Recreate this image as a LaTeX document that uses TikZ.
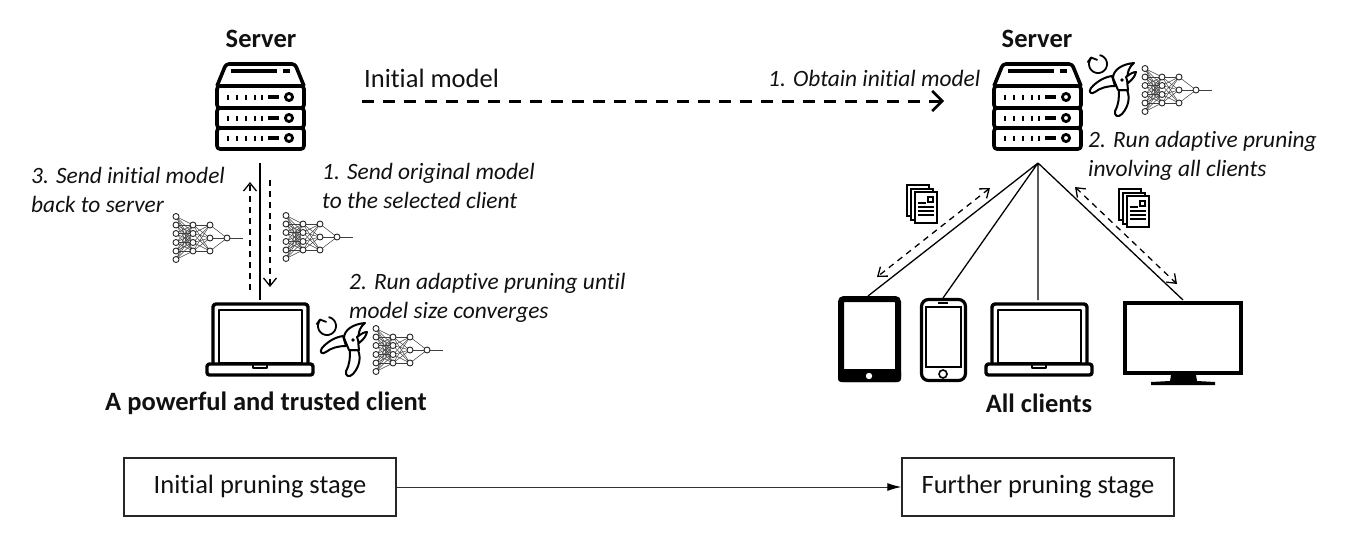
\documentclass[tikz,border=0pt]{standalone}
\usepackage{fontspec}
\setmainfont{Carlito}[Ligatures=NoCommon]
\usetikzlibrary{arrows.meta}
\definecolor{ink}{HTML}{111111}
\tikzset{
  x=1pt,y=-1pt,
  lbl/.style={font=\fontsize{23.4}{29}\selectfont\itshape,align=left,text=ink,inner sep=0pt,anchor=north west},
  head/.style={font=\fontsize{26.5}{30}\selectfont\bfseries,text=ink,inner sep=0pt},
  plain/.style={font=\fontsize{26.5}{30}\selectfont,text=ink,inner sep=0pt},
  stagebox/.style={draw=black!85,line width=1.4pt,fill=white,minimum height=58pt,minimum width=272pt,font=\fontsize{26.5}{30}\selectfont,text=ink,inner sep=0pt},
  iconbox/.style={inner sep=0pt,minimum width=#1},
  dashline/.style={draw=black,line width=1.3pt,dash pattern=on 6pt off 5pt},
  open/.style={-{Straight Barb[length=8pt,width=13pt,line width=1.3pt]}},
  pics/server/.style={code={
    \begin{scope}[line width=3.6pt,line join=round,draw=black]
    \draw[rounded corners=3pt] (0,24)--(9,2)--(78,2)--(87,24);
    \draw[rounded corners=3pt] (0,24) rectangle (87,46);
    \draw[rounded corners=3pt] (0,46) rectangle (87,66);
    \draw[rounded corners=3pt] (0,66) rectangle (87,87);
    \draw (14,9)--(60,9) (66,9)--(73,9);
    \foreach \yy in {35,56,76}{
      \foreach \xx in {11,20,29,38,45}{\draw[line width=2.6pt] (\xx,\yy-2.5)--(\xx,\yy+2.5);}
      \draw (51,\yy)--(62,\yy);
      \draw[line width=2.8pt] (72,\yy) circle (3.6);
    }
    \end{scope}}},
  pics/laptop/.style={code={
    \begin{scope}[line join=round,draw=black]
    \draw[line width=3.4pt,rounded corners=3pt] (6,60)--(6,0)--(101,0)--(101,60);
    \draw[line width=2pt] (12,6) rectangle (95,59);
    \draw[line width=3.4pt,rounded corners=2.5pt] (0,60) rectangle (106,71);
    \draw[line width=1.6pt] (46,60)--(46,64)--(60,64)--(60,60);
    \end{scope}}},
  pics/nnet/.style={code={
    \begin{scope}[draw=black!75,line width=.5pt]
    \foreach \a in {-21.5,-13,-4.5,4.5,13,21.5}{\foreach \b in {-13,-4.5,4.5,13}{\draw (0,\a)--(17,\b);}}
    \foreach \a in {-13,-4.5,4.5,13}{\foreach \b in {-13,0,13}{\draw (17,\a)--(34,\b);}}
    \foreach \b in {-13,0,13}{\draw (34,\b)--(51,0);}
    \draw[line width=.8pt] (51,0)--(67,0);
    \end{scope}
    \begin{scope}[draw=black!85,line width=.9pt,fill=white]
    \foreach \a in {-21.5,-13,-4.5,4.5,13,21.5}{\filldraw (0,\a) circle (3);}
    \foreach \a in {-13,-4.5,4.5,13}{\filldraw (17,\a) circle (3);}
    \foreach \a in {-13,0,13}{\filldraw (34,\a) circle (3);}
    \filldraw (51,0) circle (3);
    \end{scope}}},
  pics/pruner/.style={code={
    \begin{scope}[draw=black,line width=2pt,line join=round,fill=white]
    \filldraw (-10,-4) .. controls (-17,-3) and (-25,1) .. (-31,8)
       .. controls (-34,12) and (-31,15) .. (-27,12)
       .. controls (-22,8) and (-15,6) .. (-7,6) -- cycle;
    \filldraw (-3,10) -- (5,10) .. controls (8,17) and (7,26) .. (0,34)
       .. controls (-4,38) and (-8,36) .. (-7,31)
       .. controls (-3,24) and (-3,17) .. (-3,10) -- cycle;
    \filldraw (-9,-2) .. controls (-9,-10) and (0,-16) .. (12,-17)
       .. controls (6,-12) and (4,-6) .. (6,10) -- (-4,10) -- cycle;
    \filldraw (4,-3) .. controls (8,-6) and (11,-8) .. (14,-8)
       .. controls (13,-4) and (11,-1) .. (6,3) -- cycle;
    \fill[black] (0,0) circle (1.8);
    \end{scope}}},
  pics/cycle/.style={code={
    \draw[black,line width=1.8pt] plot[smooth,domain=-80:220,samples=30] ({9*cos(\x)},{9*sin(\x)});
    \draw[black,line width=1.8pt,line join=round] (-10.5,-1.5)--(-7,-6.5)--(-0.5,-4);
  }},
  pics/docs/.style={code={
    \begin{scope}[draw=black,line width=1.1pt,fill=white]
    \filldraw (0,0) rectangle (22,31);
    \filldraw (4,4) rectangle (26,35);
    \filldraw (8,7) rectangle (30,38);
    \draw (11,18)--(19,18) (11,22)--(27,22) (11,26)--(27,26) (11,30)--(27,30);
    \draw[line width=1.2pt] (21,12) rectangle (26,17);
    \end{scope}}},
}
\begin{document}
\begin{tikzpicture}
\useasboundingbox (0,0) rectangle (1346,550);
\pic at (217,62) {server};
\pic at (994,62) {server};
\node[iconbox=87pt,minimum height=87pt] (srvL) at (260.5,105.5) {};
\node[iconbox=87pt,minimum height=87pt] (srvR) at (1037.5,105.5) {};
\node[head] (tSrvL) at (261,39) {Server};
\node[head] (tSrvR) at (1037,39) {Server};
\pic at (207,304) {laptop};
\node[iconbox=106pt,minimum height=71pt] (lapL) at (260,339.5) {};
\pic at (986,304) {laptop};
\node[iconbox=106pt,minimum height=71pt] (lapR) at (1039,339.5) {};
\pic at (176,238) {nnet};
\pic at (286,237) {nnet};
\pic at (376,350) {nnet};
\pic at (1145,90) {nnet};
\pic at (353,340) {pruner};
\pic at (1122,80) {pruner};
\pic at (327,326) {cycle};
\pic at (1098,64) {cycle};
\pic at (907,185) {docs};
\pic at (1119,189) {docs};
\node[draw=black,line width=6pt,rounded corners=3pt,minimum width=57pt,minimum height=80pt,inner sep=0pt] (tablet) at (869.5,339) {};
\fill[black,rounded corners=3pt] (838,369) rectangle (901,382);
\fill[white] (869,376) circle (3.2);
\node[draw=black,line width=3.2pt,rounded corners=7pt,minimum width=44pt,minimum height=81pt,inner sep=0pt] (phone) at (943.5,340) {};
\draw[black,line width=1.6pt] (926,307) rectangle (961,367);
\draw[black,line width=1.6pt] (938,303)--(948,303);
\draw[black,line width=1.6pt] (943,374) circle (4);
\node[draw=black,line width=4.4pt,minimum width=116pt,minimum height=70pt,inner sep=0pt] (monitor) at (1183,338) {};
\fill[black] (1171,375)--(1196,375)--(1197,381)--(1215,382)--(1215,385)--(1151,385)--(1151,382)--(1170,381)--cycle;
\coordinate (apex) at (1038,163);
\coordinate (tabT) at (868,296);
\coordinate (phoT) at (943,298);
\coordinate (lapT) at (1038,300);
\coordinate (monT) at (1183,300);
\coordinate (v1) at (260,163);
\coordinate (v2) at (260,300);
\coordinate (upA) at (250,290);
\coordinate (upB) at (250,182);
\coordinate (dnA) at (270,180);
\coordinate (dnB) at (270,287);
\coordinate (d1a) at (990,188);
\coordinate (d1b) at (877,277);
\coordinate (d2a) at (1075,187);
\coordinate (d2b) at (1177,284);
\coordinate (mA) at (362,101);
\coordinate (mB) at (944,101);
\draw[black,line width=1.5pt] (v1)--(v2);
\draw[dashline,open] (upA)--(upB);
\draw[dashline,open] (dnA)--(dnB);
\draw[black,line width=1.3pt] (apex)--(tabT) (apex)--(phoT) (apex)--(lapT) (apex)--(monT);
\draw[dashline,{Straight Barb[length=8pt,width=12pt,line width=1.3pt]}-{Straight Barb[length=8pt,width=12pt,line width=1.3pt]}] (d1a)--(d1b);
\draw[dashline,{Straight Barb[length=8pt,width=12pt,line width=1.3pt]}-{Straight Barb[length=8pt,width=12pt,line width=1.3pt]}] (d2a)--(d2b);
\draw[black,line width=3pt,dash pattern=on 12pt off 9pt,-{Straight Barb[length=10pt,width=20pt,line width=2.6pt]}] (mA)--(mB);
\node[plain,anchor=west] (tInit) at (364,78) {Initial model};
\node[lbl,anchor=west] (tObtain) at (768,78) {1. Obtain initial model};
\node[lbl] (t3) at (31,167) {3. Send initial model\\back to server};
\node[lbl] (t1) at (322,163) {1. Send original model\\to the selected client};
\node[lbl] (t2) at (349,273) {2. Run adaptive pruning until\\model size converges};
\node[lbl] (t2r) at (1088,131) {2. Run adaptive pruning\\involving all clients};
\node[head] (tClient) at (266,403) {A powerful and trusted client};
\node[head] (tAll) at (1039,403) {All clients};
\node[stagebox] (st1) at (260,487) {Initial pruning stage};
\node[stagebox] (st2) at (1038,487) {Further pruning stage};
\draw[black!80,line width=1pt,-{Latex[length=14pt,width=8pt,black]}] (st1)--(st2);
\end{tikzpicture}
\end{document}
